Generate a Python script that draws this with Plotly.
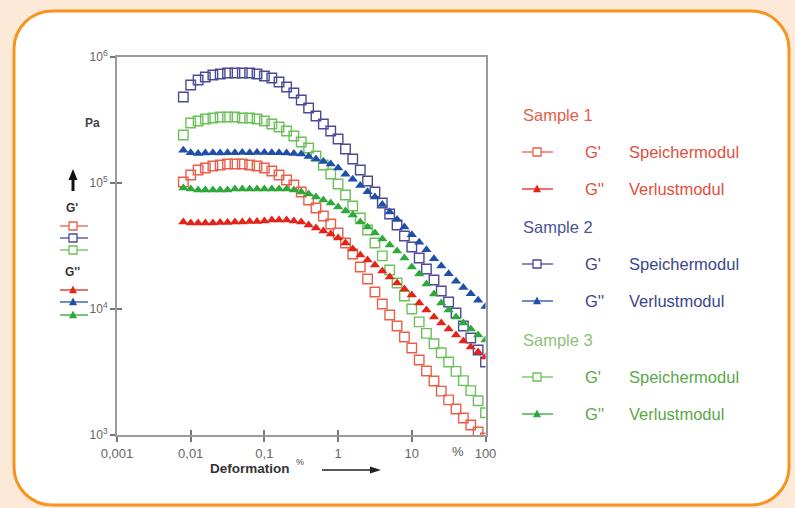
import plotly.graph_objects as go

# ---------------- data ----------------
deformation = [0.00794, 0.01, 0.0126, 0.0158, 0.02, 0.0251, 0.0316, 0.0398, 0.0501, 0.0631, 0.0794, 0.1,
               0.126, 0.158, 0.2, 0.251, 0.316, 0.398, 0.501, 0.631, 0.794, 1,
               1.26, 1.58, 2, 2.51, 3.16, 3.98, 5.01, 6.31, 7.94, 10,
               12.6, 15.8, 20, 25.1, 31.6, 39.8, 50.1, 63.1, 79.4, 100]

s1_storage = [101900, 115600, 126800, 131500, 136400, 139000, 141600, 141600, 141600, 139000, 136400, 131500,
              124500, 115600, 105700, 96400, 84900, 73300, 63400, 54700, 47300, 40100,
              33400, 27300, 21550, 17300, 13650, 10960, 8960, 7330, 6000, 4900,
              3940, 3220, 2680, 2230, 1900, 1610, 1365, 1200, 1057, 946]
s1_loss = [49000, 48200, 48200, 48200, 48200, 48600, 48600, 49000, 49000, 49400, 49400, 49900,
           50800, 50800, 50800, 49900, 49000, 46400, 43950, 41600, 39400, 36600,
           33400, 29900, 26800, 24500, 22350, 20000, 17950, 16080, 14400, 12900,
           11160, 9820, 8640, 7740, 6930, 6220, 5570, 4990, 4560, 4160]

s2_storage = [481800, 599500, 656600, 693500, 719500, 732800, 746400, 746400, 746400, 746400, 732800, 706300,
              680800, 633400, 578000, 517800, 455700, 393800, 340300, 294000, 258700, 223600,
              186200, 155000, 126800, 103700, 84900, 69400, 56750, 46400, 37950, 31030,
              25400, 20770, 16980, 13900, 11360, 9290, 7330, 5890, 4730, 3800]
s2_loss = [182000, 173800, 171800, 172800, 173800, 172800, 173800, 173800, 174800, 173800, 174800, 174800,
           173800, 173800, 172800, 171800, 169800, 162200, 154900, 147900, 141300, 131800,
           117500, 107200, 95500, 85100, 77600, 67600, 58900, 51300, 44700, 38900,
           33900, 29500, 25100, 21900, 19050, 16600, 14800, 13200, 11750, 10470]

s3_storage = [240400, 299000, 310400, 322000, 328000, 334000, 334000, 334000, 328000, 328000, 322000, 310400,
              294000, 278000, 258700, 236000, 211500, 189600, 163700, 139000, 117800, 98200,
              80300, 65700, 52700, 42400, 33400, 26400, 20400, 16100, 12680, 10000,
              7900, 6400, 5300, 4500, 3800, 3200, 2700, 2250, 1870, 1500]
s3_loss = [91200, 89600, 87900, 87900, 87900, 87900, 87900, 89600, 89600, 89600, 89600, 89600,
           89600, 89600, 89600, 87900, 84900, 81800, 77500, 73300, 69400, 64500,
           60000, 55700, 49000, 44700, 40100, 35900, 32200, 28850, 25400, 21550,
           18950, 15780, 13150, 11160, 9820, 8640, 7740, 6930, 6220, 5680]

x_tickvals = [0.001, 0.01, 0.1, 1, 10, 100]
x_ticktext = ["0,001", "0,01", "0,1", "1", "10", "100"]
y_tickvals = [1e3, 1e4, 1e5, 1e6]
y_ticktext = ["10<sup>3</sup>", "10<sup>4</sup>", "10<sup>5</sup>", "10<sup>6</sup>"]

samples = ["Sample 1", "Sample 2", "Sample 3"]
mod_labels = ["G'", "G''"]
mod_names = ["Speichermodul", "Verlustmodul"]

# ---------------- style ----------------
FONT = "Liberation Sans, Arial, sans-serif"
W, H = 795, 508
def fx(p): return p / W
def fy(p): return 1 - p / H

sq_colors = ["#e8604a", "#4a4a96", "#6cc05a"]
tri_colors = ["#e3241b", "#1f4fa8", "#2ea83a"]
text_colors = ["#dc503c", "#3c468c", "#5aa848"]
head_colors = ["#e0604a", "#4a5496", "#8cc07a"]

fig = go.Figure()
storage = [s1_storage, s2_storage, s3_storage]
loss = [s1_loss, s2_loss, s3_loss]
for i in range(3):
    fig.add_trace(go.Scatter(x=deformation, y=storage[i], mode="markers", name=samples[i] + " G'",
                             marker=dict(symbol="square-open", size=9.5, color=sq_colors[i],
                                         line=dict(width=1.4, color=sq_colors[i]))))
for i in range(3):
    fig.add_trace(go.Scatter(x=deformation, y=loss[i], mode="markers", name=samples[i] + " G''",
                             marker=dict(symbol="triangle-up", size=9, color=tri_colors[i],
                                         line=dict(width=0))))
# overlay axes used only for inner tick marks
fig.add_trace(go.Scatter(x=[], y=[], xaxis="x2", yaxis="y2", showlegend=False, hoverinfo="skip"))

shapes = []
# outer rounded frame
x0, y0, x1, y1, r = 14, 11, 789, 505, 38
k = 0.5523
def P(a, b): return f"{fx(a):.5f},{fy(b):.5f}"
path = (f"M {P(x0 + r, y0)} L {P(x1 - r, y0)} "
        f"C {P(x1 - r + k * r, y0)} {P(x1, y0 + r - k * r)} {P(x1, y0 + r)} "
        f"L {P(x1, y1 - r)} "
        f"C {P(x1, y1 - r + k * r)} {P(x1 - r + k * r, y1)} {P(x1 - r, y1)} "
        f"L {P(x0 + r, y1)} "
        f"C {P(x0 + r - k * r, y1)} {P(x0, y1 - r + k * r)} {P(x0, y1 - r)} "
        f"L {P(x0, y0 + r)} "
        f"C {P(x0, y0 + r - k * r)} {P(x0 + r - k * r, y0)} {P(x0 + r, y0)} Z")
shapes.append(dict(type="path", path=path, xref="paper", yref="paper", layer="below",
                   fillcolor="white", line=dict(color="#f7941d", width=3)))

def seg(xa, ya, xb, yb, color, w=1.3):
    shapes.append(dict(type="line", xref="paper", yref="paper", x0=fx(xa), x1=fx(xb), y0=fy(ya), y1=fy(yb),
                       line=dict(color=color, width=w)))

def hline(xa, xb, y, color, w=1.3):
    seg(xa, y, xb, y, color, w)

def square(cx, cy, s, color):
    shapes.append(dict(type="rect", xref="paper", yref="paper", x0=fx(cx - s / 2), x1=fx(cx + s / 2),
                       y0=fy(cy + s / 2), y1=fy(cy - s / 2), fillcolor="white",
                       line=dict(color=color, width=1.3)))

def poly(pts, color):
    p = "M " + " L ".join(P(a, b) for a, b in pts) + " Z"
    shapes.append(dict(type="path", path=p, xref="paper", yref="paper", fillcolor=color,
                       line=dict(width=0)))

def triangle(cx, cy, s, color):
    poly([(cx - s / 2, cy + s * 0.4), (cx + s / 2, cy + s * 0.4), (cx, cy - s * 0.55)], color)

annotations = []
def text(t, x, y, size, color, bold=False, xanchor="left"):
    annotations.append(dict(text=("<b>%s</b>" % t) if bold else t, x=fx(x), y=fy(y), xref="paper",
                            yref="paper", showarrow=False, xanchor=xanchor, yanchor="middle",
                            font=dict(family=FONT, size=size, color=color)))

# left-hand key
for i, yy in enumerate([226, 238, 250]):
    hline(60, 88, yy, sq_colors[i])
    square(73, yy, 8, sq_colors[i])
for i, yy in enumerate([290, 302, 315]):
    hline(60, 88, yy, tri_colors[i])
    triangle(73, yy, 8, tri_colors[i])
text("G'", 72, 208, 12, "#333", bold=True, xanchor="center")
text("G''", 72, 272, 12, "#333", bold=True, xanchor="center")
text("Pa", 92, 123, 12, "#444", bold=True, xanchor="center")
# upward arrow
seg(73, 191, 73, 178, "#111", 3)
poly([(68.5, 180), (77.5, 180), (73, 169)], "#111")

# right-hand legend
heads = [115, 227, 340]
for i in range(3):
    h = heads[i]
    text(samples[i], 521, h, 16.5, head_colors[i])
    for j in range(2):
        yy = h + 37 * (j + 1)
        hline(522, 553, yy, tri_colors[i] if j else sq_colors[i])
        if j == 0:
            square(537, yy, 8, sq_colors[i])
        else:
            triangle(537, yy, 8, tri_colors[i])
        text(mod_labels[j], 583, yy, 16.5, text_colors[i])
        text(mod_names[j], 627, yy, 16.5, text_colors[i])

# axis title pieces
text("Deformation", 250, 468, 13.5, "#333", bold=True, xanchor="center")
text("%", 300, 462, 9, "#444", xanchor="center")
text("%", 458, 451, 13, "#555", xanchor="center")
seg(322, 470, 372, 470, "#222", 1.6)
poly([(370, 466.5), (370, 473.5), (381, 470)], "#222")

axis_common = dict(type="log", showgrid=False, zeroline=False)
fig.update_layout(
    template="none",
    width=W, height=H, autosize=False,
    margin=dict(l=0, r=0, t=0, b=0, pad=0),
    paper_bgcolor="#fde9d8",
    plot_bgcolor="rgba(0,0,0,0)",
    showlegend=False,
    xaxis=dict(**axis_common, range=[-3, 2], domain=[fx(117), fx(485.5)], anchor="y",
               showline=True, linecolor="#9a9a9a", linewidth=2, mirror=True,
               ticks="outside", ticklen=5, tickwidth=1.5, tickcolor="#777",
               tickvals=x_tickvals, ticktext=x_ticktext, automargin=False,
               tickfont=dict(family=FONT, size=13, color="#666")),
    yaxis=dict(**axis_common, range=[3, 6], domain=[fy(435), fy(57)], anchor="x",
               showline=True, linecolor="#9a9a9a", linewidth=2, mirror=True,
               ticks="outside", ticklen=5, tickwidth=1.5, tickcolor="#777",
               tickvals=y_tickvals, ticktext=y_ticktext, automargin=False,
               tickfont=dict(family=FONT, size=12, color="#666")),
    xaxis2=dict(**axis_common, range=[-3, 2], overlaying="x", anchor="y2", side="bottom",
                showline=False, ticks="inside", ticklen=5, tickwidth=1.5, tickcolor="#777",
                tickvals=[0.01, 0.1, 1, 10], showticklabels=False),
    yaxis2=dict(**axis_common, range=[3, 6], overlaying="y", anchor="x2", side="left",
                showline=False, ticks="inside", ticklen=5, tickwidth=1.5, tickcolor="#777",
                tickvals=[1e4, 1e5], showticklabels=False),
    shapes=shapes,
    annotations=annotations,
)

fig.write_html("out.html")
